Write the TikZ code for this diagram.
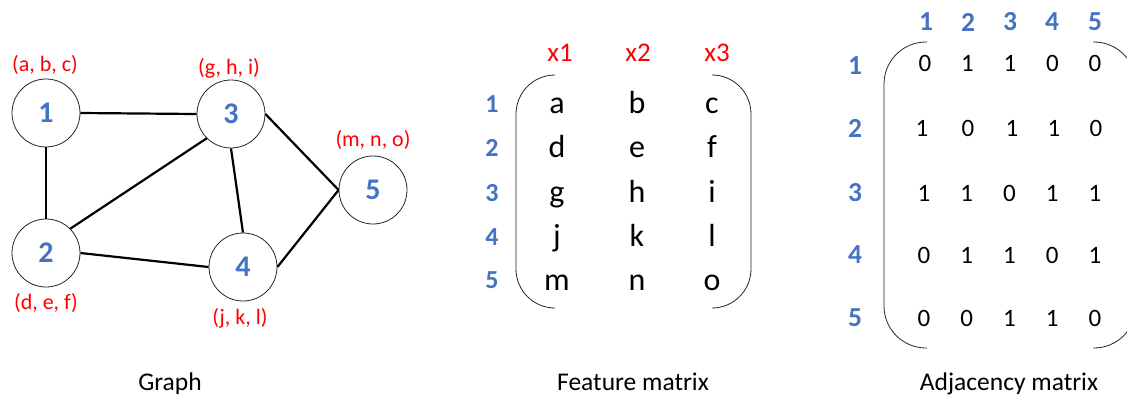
\documentclass[tikz,border=0pt]{standalone}
\usepackage{fontspec}
\setmainfont{Carlito}
\definecolor{nblue}{HTML}{4472C4}
\definecolor{lred}{HTML}{FF0000}
\begin{document}
\begin{tikzpicture}[x=1pt,y=-1pt,
  vtx/.style={circle,draw=black!85,line width=0.8pt,minimum size=68pt,inner sep=0pt,
    font=\fontsize{30}{32}\selectfont\bfseries,text=nblue},
  feat/.style={text=lred,font=\fontsize{22}{24}\selectfont,inner sep=0pt},
  edge/.style={line width=2.2pt,black},
  colx/.style={text=lred,font=\fontsize{27}{29}\selectfont,inner sep=0pt},
  rowlab/.style={text=nblue,font=\fontsize{26}{28}\selectfont\bfseries,inner sep=0pt},
  adjlab/.style={text=nblue,font=\fontsize{27.5}{29}\selectfont\bfseries,inner sep=0pt},
  lett/.style={anchor=base,font=\fontsize{32}{34}\selectfont,inner sep=0pt},
  adj/.style={font=\fontsize{25}{27}\selectfont,inner sep=0pt},
  brack/.style={line width=0.8pt,black!85},
  capt/.style={anchor=base,font=\fontsize{25.5}{28}\selectfont,inner sep=0pt}
]
\useasboundingbox (0,0) rectangle (1127,396);
\clip (0,0) rectangle (1127,396);

% ---------- Graph ----------
\node[vtx] (n1) at (46,113) {1};
\node[vtx] (n2) at (46,253) {2};
\node[vtx] (n3) at (231,114) {3};
\node[vtx] (n4) at (243,267) {4};
\node[vtx] (n5) at (373,190) {5};

\draw[edge] (n1.east) -- (n3.west);
\draw[edge] (n1.south) -- (n2.north);
\draw[edge] (n2.north east) -- (n3.south west);
\draw[edge] (n2.east) -- (n4.west);
\draw[edge] (n3.south) -- (n4.north);
\draw[edge] (n3.east) -- (n5.west);
\draw[edge] (n4.east) -- (n5.west);

\node[feat] (f1) at (45,65) {(a, b, c)};
\node[feat] (f2) at (46,303) {(d, e, f)};
\node[feat] (f3) at (229,68) {(g, h, i)};
\node[feat] (f4) at (240,318) {(j, k, l)};
\node[feat] (f5) at (373,140) {(m, n, o)};

\node[capt] (cg) at (170,390) {Graph};

% ---------- Feature matrix ----------
\node[colx] (x1) at (560,53) {x1};
\node[colx] (x2) at (638,53) {x2};
\node[colx] (x3) at (717,53) {x3};

\foreach \r/\y in {1/104,2/148,3/193,4/237,5/280}
  \node[rowlab] (fr\r) at (492,\y) {\r};

\foreach \r/\y/\a/\b/\c in {1/113/a/b/c,2/157/d/e/f,3/202/g/h/i,4/246/j/k/l,5/290/m/n/o}{
  \node[lett] (fa\r) at (557,\y) {\a};
  \node[lett] (fb\r) at (637,\y) {\b};
  \node[lett] (fc\r) at (712,\y) {\c};
}
\draw[brack,rounded corners=39pt] (555,75) -- (516,75) -- (516,308) -- (555,308);
\draw[brack,rounded corners=39pt] (712,75) -- (751,75) -- (751,308) -- (712,308);

\node[capt] (cf) at (633,390) {Feature matrix};

% ---------- Adjacency matrix ----------
\foreach \c/\x in {1/926,2/968,3/1010,4/1052,5/1095}
  \node[adjlab] (ac\c) at (\x,22) {\c};
\foreach \r/\y in {1/66,2/128,3/193,4/255,5/318}
  \node[adjlab] (ar\r) at (855,\y) {\r};

\foreach \v [count=\i] in {0,1,1,0,0}
  \node[adj] (m1\i) at ({925+42.5*(\i-1)},63) {\v};
\node[adj] (m21) at (922,128) {1};
\node[adj] (m22) at (968,128) {0};
\node[adj] (m23) at (1012,128) {1};
\node[adj] (m24) at (1054,128) {1};
\node[adj] (m25) at (1096,128) {0};
\foreach \v [count=\i] in {1,1,0,1,1}
  \node[adj] (m3\i) at ({924+42.75*(\i-1)},193) {\v};
\foreach \v [count=\i] in {0,1,1,0,1}
  \node[adj] (m4\i) at ({924+42.75*(\i-1)},255) {\v};
\foreach \v [count=\i] in {0,0,1,1,0}
  \node[adj] (m5\i) at ({924+42.75*(\i-1)},318) {\v};

\draw[brack,rounded corners=42pt] (927,42) -- (884,42) -- (884,348) -- (927,348);
\draw[brack,rounded corners=42pt] (1093,42) -- (1136,42) -- (1136,348) -- (1093,348);

\node[capt] (ca) at (1009,390) {Adjacency matrix};
\end{tikzpicture}
\end{document}
